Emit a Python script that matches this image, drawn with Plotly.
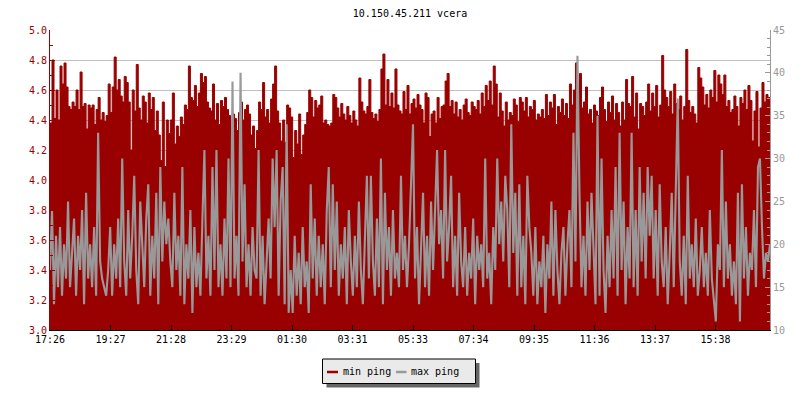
import numpy as np
import plotly.graph_objects as go

TITLE = "10.150.45.211 vcera"
TICK_LABELS = ["17:26", "19:27", "21:28", "23:29", "01:30", "03:31",
               "05:33", "07:34", "09:35", "11:36", "13:37", "15:38"]
SPAN_MIN = 1441.0          # minutes covered by the x axis
TICK_STEP_MIN = 121.09     # minutes between labelled ticks

# min ping (left axis, ms)
min_ping = [
    4.38, 4.80, 4.41, 4.60, 4.40, 4.76, 4.64, 4.78, 4.62, 4.49,
    4.47, 4.52, 4.49, 4.60, 4.47, 4.72, 4.49, 4.51, 4.34, 4.50,
    4.48, 4.50, 4.37, 4.47, 4.55, 4.40, 4.45, 4.39, 4.43, 4.64,
    4.45, 4.62, 4.82, 4.60, 4.67, 4.56, 4.52, 4.69, 4.65, 4.52,
    4.20, 4.60, 4.46, 4.77, 4.48, 4.40, 4.56, 4.52, 4.38, 4.58,
    4.47, 4.55, 4.33, 4.46, 4.30, 4.13, 4.52, 4.09, 4.40, 4.31,

    4.40, 4.58, 4.24, 4.36, 4.29, 4.42, 4.37, 4.50, 4.47, 4.76,
    4.55, 4.53, 4.63, 4.49, 4.58, 4.71, 4.65, 4.69, 4.52, 4.48,
    4.46, 4.64, 4.40, 4.51, 4.37, 4.53, 4.49, 4.55, 4.47, 4.43,
    4.34, 4.44, 4.41, 4.33, 4.45, 4.52, 4.40, 4.47, 4.50, 4.44,
    4.30, 4.36, 4.21, 4.33, 4.52, 4.47, 4.65, 4.42, 4.47, 4.38,
    4.54, 4.64, 4.76, 4.46, 4.38, 4.26, 4.40, 4.25, 4.50, 4.48,

    4.42, 4.15, 4.33, 4.24, 4.44, 4.17, 4.30, 4.37, 4.45, 4.60,
    4.55, 4.42, 4.53, 4.48, 4.50, 4.56, 4.38, 4.40, 4.37, 4.36,
    4.38, 4.57, 4.55, 4.48, 4.42, 4.51, 4.44, 4.40, 4.49, 4.43,
    4.38, 4.46, 4.40, 4.36, 4.68, 4.52, 4.46, 4.44, 4.49, 4.67,
    4.45, 4.41, 4.44, 4.39, 4.47, 4.74, 4.84, 4.50, 4.67, 4.49,
    4.58, 4.48, 4.74, 4.50, 4.46, 4.44, 4.59, 4.47, 4.63, 4.44,

    4.51, 4.54, 4.48, 4.57, 4.50, 4.47, 4.38, 4.58, 4.55, 4.29,
    4.44, 4.46, 4.38, 4.55, 4.41, 4.49, 4.50, 4.66, 4.71, 4.49,
    4.53, 4.44, 4.52, 4.42, 4.47, 4.40, 4.50, 4.54, 4.45, 4.43,
    4.52, 4.49, 4.47, 4.53, 4.44, 4.58, 4.49, 4.63, 4.53, 4.66,
    4.50, 4.76, 4.64, 4.42, 4.58, 4.46, 4.36, 4.52, 4.40, 4.45,
    4.43, 4.54, 4.50, 4.39, 4.55, 4.52, 4.46, 4.55, 4.42, 4.49,

    4.47, 4.53, 4.40, 4.44, 4.42, 4.47, 4.41, 4.57, 4.43, 4.52,
    4.48, 4.57, 4.37, 4.49, 4.45, 4.54, 4.43, 4.51, 4.41, 4.64,
    4.50, 4.60, 4.78, 4.52, 4.71, 4.48, 4.52, 4.62, 4.44, 4.47,
    4.38, 4.50, 4.46, 4.43, 4.55, 4.62, 4.47, 4.39, 4.52, 4.45,
    4.56, 4.40, 4.51, 4.45, 4.36, 4.52, 4.40, 4.67, 4.51, 4.49,
    4.69, 4.42, 4.58, 4.34, 4.51, 4.49, 4.43, 4.52, 4.64, 4.46,

    4.58, 4.49, 4.63, 4.42, 4.50, 4.83, 4.60, 4.55, 4.49, 4.59,
    4.44, 4.64, 4.51, 4.47, 4.56, 4.40, 4.49, 4.87, 4.53, 4.45,
    4.49, 4.44, 4.38, 4.75, 4.68, 4.62, 4.50, 4.57, 4.48, 4.60,
    4.55, 4.73, 4.52, 4.70, 4.64, 4.57, 4.70, 4.49, 4.53, 4.45,
    4.47, 4.56, 4.49, 4.36, 4.55, 4.51, 4.60, 4.47, 4.63, 4.53,
    4.26, 4.46, 4.59, 4.22, 4.48, 4.65, 4.52, 4.57, 4.55, 4.50,
]

# max ping (right axis, ms)
max_ping = [
    17, 24, 13, 21, 15, 22, 14, 20, 16, 25,
    15, 19, 23, 14, 21, 17, 24, 13, 26, 16,
    20, 15, 22, 14, 33, 18, 16, 15, 14, 17,
    22, 14, 20, 16, 23, 15, 30, 18, 14, 24,
    16, 21, 28, 17, 13, 25, 19, 15, 23, 27,
    14, 21, 16, 26, 13, 29, 18, 25, 20, 23,

    18, 15, 26, 17, 21, 14, 29, 13, 20, 16,
    24, 12, 22, 15, 19, 14, 23, 31, 16, 21,
    14, 29, 17, 31, 15, 20, 14, 23, 16, 30,
    15, 39, 16, 21, 14, 40, 18, 27, 15, 20,
    14, 22, 17, 16, 31, 14, 21, 13, 18, 23,
    16, 30, 22, 31, 14, 25, 29, 13, 34, 12,

    17, 12, 21, 14, 19, 13, 22, 15, 18, 12,
    27, 16, 23, 14, 21, 15, 20, 13, 24, 29,
    15, 27, 17, 25, 14, 20, 16, 22, 13, 24,
    18, 14, 21, 15, 25, 17, 13, 20, 28, 16,
    28, 18, 14, 23, 15, 30, 13, 26, 17, 22,
    14, 24, 16, 19, 15, 28, 17, 21, 15, 20,

    27, 34, 16, 22, 13, 20, 26, 15, 21, 14,
    25, 17, 23, 31, 20, 24, 16, 31, 18, 22,
    28, 15, 21, 14, 26, 18, 15, 22, 14, 19,
    16, 23, 13, 21, 17, 20, 15, 30, 16, 19,
    13, 22, 17, 30, 20, 25, 18, 28, 24, 15,
    34, 19, 26, 14, 27, 15, 21, 13, 28, 22,

    19, 14, 22, 13, 18, 15, 21, 12, 20, 16,
    25, 14, 24, 17, 13, 19, 22, 14, 20, 24,
    15, 33, 18, 42, 26, 15, 21, 14, 25, 17,
    26, 19, 13, 35, 14, 30, 17, 12, 21, 15,
    24, 16, 29, 14, 33, 17, 25, 13, 22, 16,
    33, 15, 24, 14, 29, 18, 26, 16, 29, 21,

    28, 16, 24, 14, 27, 18, 15, 22, 13, 19,
    26, 15, 25, 37, 18, 14, 21, 13, 28, 16,
    20, 15, 23, 14, 17, 22, 15, 19, 14, 24,
    16, 13, 11, 20, 17, 31, 15, 25, 16, 20,
    14, 18, 13, 26, 11, 27, 16, 22, 14, 19,
    17, 24, 15, 29, 30, 22, 16, 19, 18, 20,
]

RED = "#990000"
GRAY = "#999999"
FONT = "DejaVu Sans Mono"

x_min = np.linspace(0, SPAN_MIN, len(min_ping))
x_max = np.linspace(0, SPAN_MIN, len(max_ping))
tickvals = [i * TICK_STEP_MIN for i in range(len(TICK_LABELS))]

fig = go.Figure()
fig.add_trace(go.Scatter(
    x=x_min, y=min_ping, mode="lines", fill="tozeroy",
    line=dict(color=RED, width=1, shape="hv"), fillcolor=RED,
    name="min ping", showlegend=False, yaxis="y", hoverinfo="skip"))
fig.add_trace(go.Scatter(
    x=x_max, y=max_ping, mode="lines",
    line=dict(color=GRAY, width=2.1),
    name="max ping", showlegend=False, yaxis="y2", hoverinfo="skip"))

# plot area: x 50..770, y 30..330
L, R, T, B = 50, 770, 30, 330
def px(xp):
    return (xp - L) / (R - L)
def py(yp):
    return (B - yp) / (B - T)

shapes = [
    # legend shadow
    dict(type="rect", xref="paper", yref="paper", layer="above",
         x0=px(326.5), x1=px(479.5), y0=py(363), y1=py(387.5),
         fillcolor="#666666", line=dict(width=0)),
    # legend box
    dict(type="rect", xref="paper", yref="paper", layer="above",
         x0=px(322.5), x1=px(475.5), y0=py(359), y1=py(383.5),
         fillcolor="#eaeaea", line=dict(color="black", width=1)),
    dict(type="line", xref="paper", yref="paper", layer="above",
         x0=px(327), x1=px(338), y0=py(372), y1=py(372),
         line=dict(color=RED, width=2.5)),
    dict(type="line", xref="paper", yref="paper", layer="above",
         x0=px(396), x1=px(406.5), y0=py(372), y1=py(372),
         line=dict(color=GRAY, width=2.5)),
]
annotations = [
    dict(text="min ping", xref="paper", yref="paper", x=px(341), y=py(371.5),
         xanchor="left", yanchor="middle", showarrow=False,
         font=dict(family=FONT, size=10, color="black")),
    dict(text="max ping", xref="paper", yref="paper", x=px(409), y=py(371.5),
         xanchor="left", yanchor="middle", showarrow=False,
         font=dict(family=FONT, size=10, color="black")),
]

fig.update_layout(
    width=800, height=400,
    margin=dict(l=L, r=800 - R, t=T, b=400 - B, pad=0, autoexpand=False),
    paper_bgcolor="white", plot_bgcolor="white",
    showlegend=False,
    font=dict(family=FONT, size=10, color="black"),
    title=dict(text=TITLE, x=px(410), xref="paper", y=1 - 13 / 400,
               yref="container", xanchor="center", yanchor="middle",
               font=dict(family=FONT, size=10, color="black")),
    xaxis=dict(range=[0, SPAN_MIN], tickvals=tickvals, ticktext=TICK_LABELS,
               showgrid=False, zeroline=False, showline=True,
               linecolor="black", linewidth=1, ticks="inside", ticklen=5,
               tickcolor="black", tickfont=dict(family=FONT, size=10, color="black"),
               fixedrange=True, automargin=False),
    yaxis=dict(range=[3.0, 5.0], dtick=0.2, tick0=3.0, tickformat=".1f",
               showgrid=True, gridcolor="#c0c0c0", gridwidth=1,
               zeroline=False, showline=True, linecolor=RED, linewidth=1,
               ticks="inside", ticklen=5, tickcolor=RED, automargin=False,
               minor=dict(dtick=0.1, ticks="inside", ticklen=3, tickcolor=RED,
                          showgrid=False),
               tickfont=dict(family=FONT, size=10, color=RED)),
    yaxis2=dict(range=[10, 45], dtick=5, tick0=10, overlaying="y", side="right",
                showgrid=False, zeroline=False, showline=True, linecolor=GRAY,
                linewidth=1, ticks="inside", ticklen=5, tickcolor=GRAY,
                automargin=False,
                minor=dict(dtick=1, ticks="inside", ticklen=3, tickcolor=GRAY,
                           showgrid=False),
                tickfont=dict(family=FONT, size=10, color=GRAY)),
    shapes=shapes,
    annotations=annotations,
)

fig.write_html(
    "out.html",
    config={"displayModeBar": False, "staticPlot": True},
    post_script="document.body.style.margin='0';document.body.style.padding='0';",
)
